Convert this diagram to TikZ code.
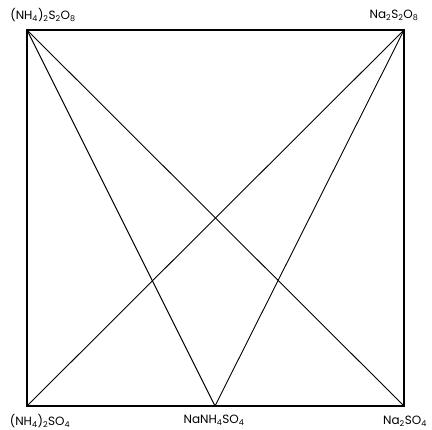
\documentclass[tikz,border=0pt]{standalone}
\usepackage{fontspec}
\setmainfont{Poppins}
\usetikzlibrary{positioning}

\begin{document}
\begin{tikzpicture}[x=1pt, y=-1pt,
            corner/.style={inner sep=0pt, minimum size=0pt},
            salt/.style={font=\fontsize{12}{14}\selectfont, inner sep=1pt},
            side/.style={line width=1.6pt, line join=miter},
            tie/.style={line width=0.9pt}
        ]
            \useasboundingbox (0,0) rectangle (432,430);

            % --- corners of the square ---
            \node[corner] (nps) at (27,30) {};
            \node[corner] (sps) at (404,30) {};
            \node[corner] (nsu) at (27,406) {};
            \node[corner] (mix) at (215,406) {};
            \node[corner] (ssu) at (404,406) {};

            % --- labels ---
            \node[salt] at (43,15) {(NH\textsubscript{4})\textsubscript{2}S\textsubscript{2}O\textsubscript{8}};
            \node[salt] at (394,15) {Na\textsubscript{2}S\textsubscript{2}O\textsubscript{8}};
            \node[salt] at (40,421) {(NH\textsubscript{4})\textsubscript{2}SO\textsubscript{4}};
            \node[salt] at (214,420) {NaNH\textsubscript{4}SO\textsubscript{4}};
            \node[salt] at (405,421) {Na\textsubscript{2}SO\textsubscript{4}};

            % --- square ---
            \draw[side] (nps.center) -- (sps.center) -- (ssu.center) -- (nsu.center) -- cycle;

            % --- crossing lines ---
            \draw[tie] (nps.center) -- (ssu.center);
            \draw[tie] (nps.center) -- (mix.center);
            \draw[tie] (sps.center) -- (nsu.center);
            \draw[tie] (sps.center) -- (mix.center);
        \end{tikzpicture}
\end{document}
